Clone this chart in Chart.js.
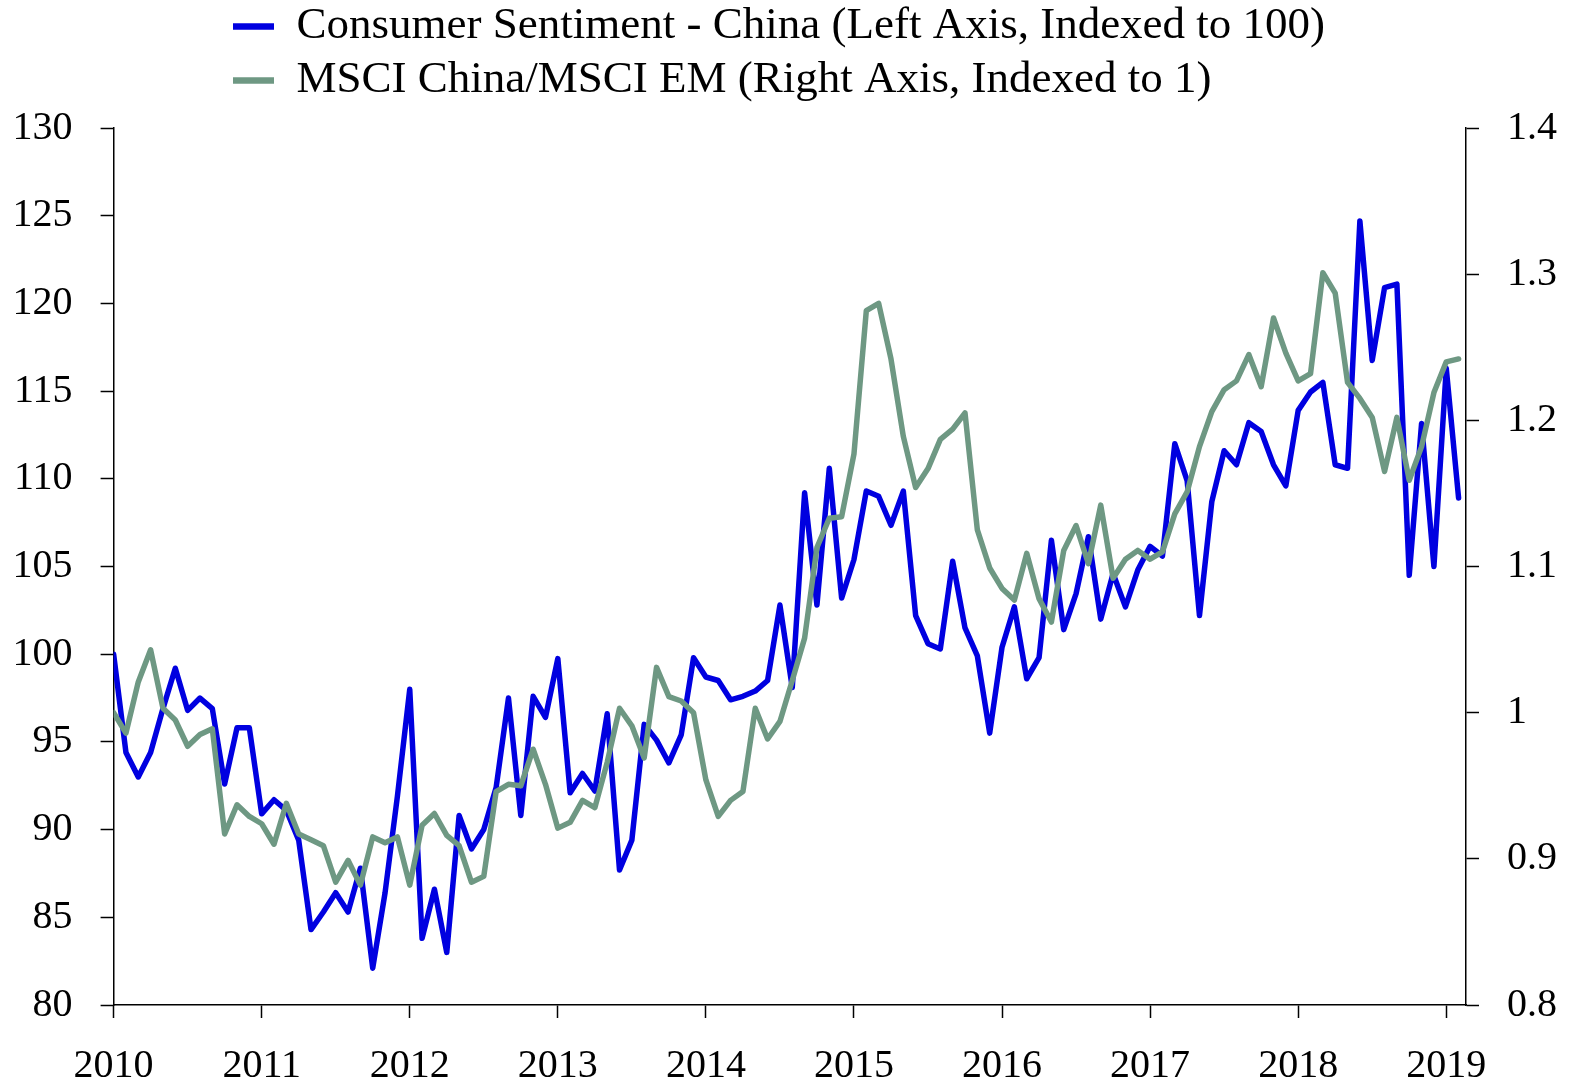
<!DOCTYPE html>
<html>
<head>
<meta charset="utf-8">
<script src="https://cdn.jsdelivr.net/npm/chart.js@4.4.1/dist/chart.umd.min.js"></script>
<style>
  body { margin: 0; background: #fff; }
  canvas { display: block; }
</style>
</head>
<body>
<canvas id="grafico" width="1577" height="1086"></canvas>
<script>
// monthly, Jan 2010 .. Feb 2019
const yearLabels = ["2010", "2011", "2012", "2013", "2014", "2015", "2016", "2017", "2018", "2019"]

const sentimentChina = [
  100.0, 94.4, 93.0, 94.4, 96.9, 99.2, 96.8, 97.5, 96.9, 92.6, 95.8, 95.8,
  90.9, 91.7, 91.1, 89.4, 84.3, 85.3, 86.4, 85.3, 87.8, 82.1, 86.4, 91.9,
  98.0, 83.8, 86.6, 83.0, 90.8, 88.9, 90.0, 92.4, 97.5, 90.8, 97.6, 96.4,
  99.75, 92.1, 93.2, 92.2, 96.6, 87.7, 89.4, 96.0, 95.1, 93.8, 95.4, 99.8,
  98.7, 98.5, 97.4, 97.6, 97.9, 98.5, 102.8, 98.1, 109.2, 102.8, 110.6, 103.2,
  105.4, 109.3, 109.0, 107.35, 109.3, 102.2, 100.6, 100.3, 105.3, 101.5, 99.9, 95.5,
  100.4, 102.7, 98.6, 99.8, 106.5, 101.4, 103.45, 106.7, 102.0, 104.6, 102.7, 104.8,
  106.15, 105.6, 112.0, 109.9, 102.2, 108.7, 111.6, 110.8, 113.2, 112.7, 110.8, 109.6,
  113.9, 114.95, 115.5, 110.8, 110.6, 124.7, 116.75, 120.9, 121.1, 104.5, 113.15, 105.0,
  116.3, 108.9
]

const msciChinaEm = [
  1.000, 0.986, 1.021, 1.043, 1.003, 0.995, 0.977, 0.985, 0.989, 0.917, 0.937, 0.929,
  0.924, 0.910, 0.938, 0.917, 0.913, 0.909, 0.884, 0.899, 0.882, 0.915, 0.911, 0.915,
  0.882, 0.923, 0.931, 0.916, 0.909, 0.884, 0.888, 0.946, 0.951, 0.950, 0.975, 0.951,
  0.921, 0.925, 0.940, 0.935, 0.966, 1.003, 0.991, 0.969, 1.031, 1.011, 1.008, 1.000,
  0.954, 0.929, 0.940, 0.946, 1.003, 0.982, 0.994, 1.022, 1.051, 1.113, 1.133, 1.134,
  1.177, 1.275, 1.280, 1.242, 1.189, 1.154, 1.167, 1.187, 1.194, 1.205, 1.125, 1.099,
  1.085, 1.077, 1.109, 1.078, 1.062, 1.111, 1.128, 1.102, 1.142, 1.092, 1.105, 1.111,
  1.105, 1.110, 1.136, 1.151, 1.182, 1.206, 1.221, 1.227, 1.245, 1.223, 1.270, 1.246,
  1.227, 1.232, 1.301, 1.287, 1.226, 1.215, 1.202, 1.165, 1.202, 1.159, 1.182, 1.219,
  1.240, 1.242
]

const azul = "rgb(0, 0, 224)"
const verde = "rgb(110, 152, 131)"

Chart.defaults.font.family = "'Liberation Serif', 'DejaVu Serif', serif"
Chart.defaults.font.size = 40
Chart.defaults.color = "#000"

// move the legend block to the right and up a bit
const moveLegend = {
  id: "moveLegend",
  afterLayout(chart) {
    const lg = chart.legend
    const h = lg.bottom - lg.top
    lg.left = 224
    lg.top = -5
    lg.bottom = lg.top + h
  }
}

const eixo = {
  grid: { drawOnChartArea: false, color: "#000", tickLength: 13, tickWidth: 1.5 },
  border: { display: true, color: "#000", width: 1.5 }
}

new Chart(document.getElementById("grafico"), {
  type: "line",
  data: {
    datasets: [
      {
        label: "Consumer Sentiment - China (Left Axis, Indexed to 100)",
        data: sentimentChina.map((v, i) => ({ x: i, y: v })),
        borderColor: azul,
        backgroundColor: azul,
        borderWidth: 5.5,
        yAxisID: "y",
        order: 1
      },
      {
        label: "MSCI China/MSCI EM (Right Axis, Indexed to 1)",
        data: msciChinaEm.map((v, i) => ({ x: i, y: v })),
        borderColor: verde,
        backgroundColor: verde,
        borderWidth: 5.5,
        yAxisID: "y1",
        order: 0
      }
    ]
  },
  options: {
    responsive: false,
    devicePixelRatio: 1,
    animation: false,
    layout: { padding: { top: 10, left: 0, right: 0, bottom: 0 } },
    elements: {
      point: { radius: 0 },
      line: { tension: 0, borderCapStyle: "round", borderJoinStyle: "round" }
    },
    plugins: {
      tooltip: { enabled: false },
      legend: {
        position: "top",
        align: "start",
        labels: {
          font: { size: 45 },
          usePointStyle: true,
          pointStyle: "line",
          pointStyleWidth: 41,
          padding: 9,
          sort: (a, b) => a.datasetIndex - b.datasetIndex,
          generateLabels: (chart) => {
            const itens = Chart.defaults.plugins.legend.labels.generateLabels(chart)
            itens.forEach(it => { it.lineWidth = 6.5 })
            return itens
          }
        }
      }
    },
    scales: {
      x: {
        type: "linear",
        min: 0,
        max: 109.6,
        ...eixo,
        afterBuildTicks: (scale) => {
          scale.ticks = yearLabels.map((y, i) => ({ value: i * 12 }))
        },
        afterFit: (scale) => { scale.height = 81 },
        ticks: {
          padding: 24,
          maxRotation: 0,
          autoSkip: false,
          callback: (v, i) => yearLabels[i]
        }
      },
      y: {
        position: "left",
        min: 80,
        max: 130,
        ...eixo,
        afterFit: (scale) => { scale.width = 113.6 },
        ticks: { stepSize: 5, padding: 28 }
      },
      y1: {
        position: "right",
        min: 0.8,
        max: 1.4,
        ...eixo,
        afterFit: (scale) => { scale.width = 111 },
        ticks: {
          stepSize: 0.1,
          padding: 28,
          callback: (v) => String(+v.toFixed(1))
        }
      }
    }
  },
  plugins: [moveLegend]
})
</script>
</body>
</html>
